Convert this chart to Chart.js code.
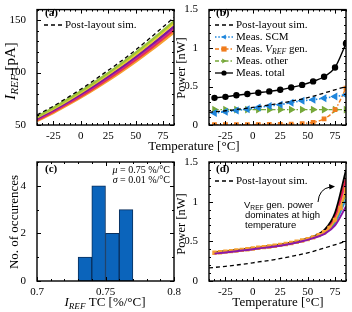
<!DOCTYPE html>
<html>
<head>
<meta charset="utf-8">
<script src="https://cdn.jsdelivr.net/npm/chart.js@4"></script>
<style>
  body { margin: 0; background: #fff; width: 352px; height: 312px; position: relative; overflow: hidden; }
  canvas { position: absolute; left: 0; top: 0; }
</style>
</head>
<body>
<canvas id="ca" width="352" height="312"></canvas>
<canvas id="cb" width="352" height="312"></canvas>
<canvas id="cc" width="352" height="312"></canvas>
<canvas id="cd" width="352" height="312"></canvas>
<script>
// ---- (a) reference current vs temperature, one line per chip
const tA = [-40, -25, -10, 5, 20, 35, 50, 65, 85];
const iPost    = [59.5, 68, 77.5, 87.5, 98.5, 109.5, 121.5, 134.5, 152.5];
const iGreen   = [58, 66.4, 75.7, 85.5, 96, 107.1, 118.9, 131.4, 149];
const iYellow  = [57.1, 65.5, 74.6, 84.3, 94.7, 105.6, 117.2, 129.5, 146.9];
const iPurple  = [56, 64.2, 73.1, 82.6, 92.8, 103.5, 114.9, 127, 144];
const iMagenta = [55.4, 63.6, 72.4, 81.8, 91.9, 102.5, 113.8, 125.7, 142.6];
const iRed     = [54.6, 62.6, 71.3, 80.5, 90.5, 100.9, 112, 123.8, 140.4];
const iOrange  = [53.8, 61.6, 70.2, 79.3, 89.1, 99.4, 110.3, 121.9, 138.2];

// ---- (b) power breakdown
const tB = [-35, -25, -15, -5, 5, 15, 25, 35, 45, 55, 65, 75, 85];
const tPost = [-40, -25, -10, 5, 20, 35, 50, 65, 85];
const pPost  = [0.165, 0.185, 0.21, 0.24, 0.27, 0.31, 0.355, 0.415, 0.5];
const pScm   = [0.155, 0.172, 0.189, 0.206, 0.227, 0.248, 0.265, 0.29, 0.315, 0.328, 0.349, 0.37, 0.39];
const pVref  = [0.005, 0.005, 0.005, 0.005, 0.006, 0.007, 0.008, 0.01, 0.018, 0.035, 0.08, 0.2, 0.48];
const pOther = [0.2, 0.2, 0.2, 0.2, 0.2, 0.2, 0.2, 0.2, 0.2, 0.2, 0.2, 0.2, 0.2];
const pTotal = [0.353, 0.366, 0.387, 0.403, 0.42, 0.437, 0.458, 0.488, 0.521, 0.567, 0.627, 0.748, 1.06];

// ---- (c) histogram of TC
const binCenters = [0.735, 0.745, 0.755, 0.765];
const binCounts = [1, 4, 2, 3];

// ---- (d) total power per chip
const tD = [-35, -25, -15, -5, 5, 15, 25, 35, 45, 55, 65, 75, 85];
const dBlack   = [0.36, 0.375, 0.39, 0.405, 0.42, 0.44, 0.46, 0.485, 0.515, 0.56, 0.64, 0.86, 1.40];
const dRed     = [0.355, 0.37, 0.385, 0.40, 0.42, 0.435, 0.455, 0.48, 0.51, 0.555, 0.63, 0.82, 1.30];
const dMagenta = [0.35, 0.365, 0.38, 0.395, 0.415, 0.43, 0.45, 0.475, 0.505, 0.55, 0.62, 0.80, 1.25];
const dYellow  = [0.36, 0.375, 0.39, 0.405, 0.425, 0.44, 0.46, 0.485, 0.515, 0.555, 0.625, 0.78, 1.17];
const dGreen   = [0.355, 0.37, 0.385, 0.40, 0.42, 0.435, 0.455, 0.48, 0.51, 0.55, 0.61, 0.76, 1.10];
const dBlue    = [0.35, 0.365, 0.38, 0.395, 0.415, 0.43, 0.45, 0.475, 0.505, 0.545, 0.60, 0.73, 1.03];
const dPurple  = [0.345, 0.36, 0.375, 0.39, 0.41, 0.425, 0.445, 0.47, 0.50, 0.54, 0.59, 0.70, 0.94];
const tD5 = [-35, -30, -25, -20, -15, -10, -5, 0, 5, 10, 15, 20, 25, 30, 35, 40, 45, 50, 55, 60, 65, 70, 75, 80, 85];
const dOrange  = [0.355, 0.362, 0.37, 0.377, 0.385, 0.392, 0.40, 0.41, 0.42, 0.427, 0.435, 0.445, 0.455, 0.467, 0.48,
                  0.494, 0.51, 0.528, 0.55, 0.578, 0.615, 0.67, 0.77, 0.92, 1.15];

// tick labels
const tempTicks = [-25, 0, 25, 50, 75];
const iTicks = [50, 100, 150];
const powTicks = [0, 0.5, 1, 1.5];
const tcTicks = [0.7, 0.75, 0.8];
const cntTicks = [0, 2, 4];

const serif = '"Liberation Serif", "Times New Roman", serif';
const sans = '"Liberation Sans", Arial, sans-serif';
Chart.defaults.font.family = serif;
Chart.defaults.font.size = 11;
Chart.defaults.color = '#000';
Chart.defaults.animation = false;

const pts = (xs, ys) => xs.map((x, i) => ({ x: x, y: ys[i] }));

function axis(min, max, ticks, fit, size) {
  return {
    type: 'linear', min: min, max: max, offset: false,
    grid: { display: false },
    border: { display: false },
    ticks: { padding: fit === 'w' ? 3 : -3, maxRotation: 0, autoSkip: false, callback: v => String(+v.toFixed(2)) },
    afterBuildTicks: s => { s.ticks = ticks.map(v => ({ value: v })); },
    afterFit: s => { if (fit === 'w') s.width = size; else s.height = size; }
  };
}

// rich text: parts = [{t, i, b, sub, f}]
function rich(ctx, parts, x, y, size, align, rot, subScale) {
  const ss = subScale || 0.7;
  ctx.save();
  ctx.translate(x, y);
  if (rot) ctx.rotate(rot);
  ctx.textBaseline = 'middle';
  ctx.textAlign = 'left';
  ctx.fillStyle = '#000';
  const font = p => (p.b ? 'bold ' : '') + (p.i ? 'italic ' : '') + (p.sub ? size * ss : size) + 'px ' + (p.f || serif);
  let w = 0;
  parts.forEach(p => { ctx.font = font(p); w += ctx.measureText(p.t).width; });
  let cx = align === 'center' ? -w / 2 : align === 'right' ? -w : 0;
  parts.forEach(p => {
    ctx.font = font(p);
    ctx.fillText(p.t, cx, p.sub ? size * 0.3 : 0);
    cx += ctx.measureText(p.t).width;
  });
  ctx.restore();
}

function marker(ctx, style, x, y, r, color) {
  if (!style) return;
  ctx.fillStyle = color;
  ctx.beginPath();
  if (style === 'circle') ctx.arc(x, y, r, 0, Math.PI * 2);
  else if (style === 'rect') ctx.rect(x - r, y - r, 2 * r, 2 * r);
  else if (style === 'left') { ctx.moveTo(x - r, y); ctx.lineTo(x + r * 0.7, y - r); ctx.lineTo(x + r * 0.7, y + r); }
  else if (style === 'right') { ctx.moveTo(x + r, y); ctx.lineTo(x - r * 0.7, y - r); ctx.lineTo(x - r * 0.7, y + r); }
  ctx.closePath();
  ctx.fill();
}

function legendItem(ctx, x, y, color, dash, style, parts) {
  ctx.save();
  ctx.strokeStyle = color;
  ctx.lineWidth = 1.3;
  ctx.setLineDash(dash);
  ctx.beginPath();
  ctx.moveTo(x, y);
  ctx.lineTo(x + 18, y);
  ctx.stroke();
  ctx.setLineDash([]);
  marker(ctx, style, x + 9, y, 2.6, color);
  ctx.restore();
  rich(ctx, parts, x + 21, y, 11, 'left');
}

// box with inward major and minor ticks
const frame = {
  id: 'frame',
  afterDatasetsDraw(chart, args, o) {
    const { ctx, chartArea: a, scales } = chart;
    const x = scales.x, y = scales.y;
    ctx.save();
    ctx.strokeStyle = '#000';
    ctx.lineWidth = 1;
    ctx.beginPath();
    const mx = v => Math.round(x.getPixelForValue(v)) + 0.5;
    const my = v => Math.round(y.getPixelForValue(v)) + 0.5;
    for (let k = 0; x.min + k * o.mx <= x.max + 1e-9; k++) {
      const v = x.min + k * o.mx;
      const major = x.ticks.some(t => Math.abs(t.value - v) < 1e-6);
      const len = major ? 4 : 2;
      ctx.moveTo(mx(v), a.bottom); ctx.lineTo(mx(v), a.bottom - len);
      ctx.moveTo(mx(v), a.top); ctx.lineTo(mx(v), a.top + len);
    }
    for (let k = 0; y.min + k * o.my <= y.max + 1e-9; k++) {
      const v = y.min + k * o.my;
      const major = y.ticks.some(t => Math.abs(t.value - v) < 1e-6);
      const len = major ? 4 : 2;
      ctx.moveTo(a.left, my(v)); ctx.lineTo(a.left + len, my(v));
      ctx.moveTo(a.right, my(v)); ctx.lineTo(a.right - len, my(v));
    }
    ctx.stroke();
    ctx.lineWidth = 1.4;
    ctx.strokeRect(a.left, a.top, a.right - a.left, a.bottom - a.top);
    ctx.restore();
  }
};

const baseOpts = (pad, scalesObj, minor) => ({
  responsive: false,
  maintainAspectRatio: false,
  devicePixelRatio: 1,
  layout: { padding: pad },
  scales: scalesObj,
  plugins: { legend: { display: false }, tooltip: { enabled: false }, frame: minor }
});

const line = (label, xs, ys, color, extra) => Object.assign({
  label: label, data: pts(xs, ys), borderColor: color, backgroundColor: color,
  borderWidth: 1.4, pointRadius: 0, cubicInterpolationMode: 'monotone', fill: false
}, extra || {});

// ---------- (a)
new Chart(document.getElementById('ca'), {
  type: 'line',
  data: {
    datasets: [
      line('Post-layout sim.', tA, iPost, '#000', { borderDash: [4, 3], borderWidth: 1.3 }),
      line('chip 1', tA, iGreen, '#9cc43a', { borderWidth: 2.2 }),
      line('chip 2', tA, iYellow, '#e6d22a', { borderWidth: 2.2 }),
      line('chip 3', tA, iPurple, '#7c1a9e', { borderWidth: 2.2 }),
      line('chip 4', tA, iMagenta, '#c8289a', { borderWidth: 2.2 }),
      line('chip 5', tA, iRed, '#e8344a', { borderWidth: 2.2 }),
      line('chip 6', tA, iOrange, '#f5a030', { borderWidth: 2.4 })
    ]
  },
  options: baseOpts({ left: 7, right: 178, top: 6, bottom: 167 }, {
    x: axis(-40, 85, tempTicks, 'h', 20),
    y: axis(50, 160, iTicks, 'w', 30)
  }, { mx: 5, my: 10 }),
  plugins: [frame, {
    id: 'decoA',
    afterDraw(chart) {
      const ctx = chart.ctx;
      rich(ctx, [{ t: '(a)', b: 1 }], 45, 13, 11, 'left');
      legendItem(ctx, 44, 25, '#000', [4, 3], null, [{ t: 'Post-layout sim.' }]);
      rich(ctx, [{ t: 'I', i: 1 }, { t: 'REF', i: 1, sub: 1 }, { t: ' [pA]' }], 11, 71, 15, 'center', -Math.PI / 2, 0.75);
    }
  }]
});

// ---------- (b)
new Chart(document.getElementById('cb'), {
  type: 'line',
  data: {
    datasets: [
      line('Meas. total', tB, pTotal, '#000', { pointRadius: 2.5, pointStyle: 'circle' }),
      line('Post-layout sim.', tPost, pPost, '#000', { borderDash: [4, 3], borderWidth: 1.3 }),
      line('Meas. SCM', tB, pScm, '#1f86dc', { borderDash: [1.5, 1.8], borderWidth: 1.6, pointRadius: 3, pointStyle: 'triangle', rotation: -90 }),
      line('Meas. VREF gen.', tB, pVref, '#f07c1c', { borderDash: [4, 2, 1.5, 2], pointRadius: 2.4, pointStyle: 'rect' }),
      line('Meas. other', tB, pOther, '#77a83a', { borderDash: [4, 2, 1.5, 2], pointRadius: 3, pointStyle: 'triangle', rotation: 90 })
    ]
  },
  options: baseOpts({ left: 185, right: 6, top: 6, bottom: 167 }, {
    x: axis(-40, 85, tempTicks, 'h', 20),
    y: axis(0, 1.5, powTicks, 'w', 24)
  }, { mx: 5, my: 0.1 }),
  plugins: [frame, {
    id: 'decoB',
    afterDraw(chart) {
      const ctx = chart.ctx;
      rich(ctx, [{ t: '(b)', b: 1 }], 216, 13, 11, 'left');
      legendItem(ctx, 215, 25, '#000', [4, 3], null, [{ t: 'Post-layout sim.' }]);
      legendItem(ctx, 215, 37, '#1f86dc', [1.5, 1.8], 'left', [{ t: 'Meas. SCM' }]);
      legendItem(ctx, 215, 49, '#f07c1c', [4, 2, 1.5, 2], 'rect', [{ t: 'Meas. ' }, { t: 'V', i: 1 }, { t: 'REF', i: 1, sub: 1 }, { t: ' gen.' }]);
      legendItem(ctx, 215, 61, '#77a83a', [4, 2, 1.5, 2], 'right', [{ t: 'Meas. other' }]);
      legendItem(ctx, 215, 73, '#000', [], 'circle', [{ t: 'Meas. total' }]);
      rich(ctx, [{ t: 'Power [nW]' }], 182, 68, 12.5, 'center', -Math.PI / 2);
      rich(ctx, [{ t: 'Temperature [°C]' }], 194, 147, 13, 'center');
    }
  }]
});

// ---------- (c)
new Chart(document.getElementById('cc'), {
  type: 'bar',
  data: {
    datasets: [{
      label: 'Chips',
      data: pts(binCenters, binCounts),
      backgroundColor: '#0b64bb',
      borderColor: '#0a2f5c',
      borderWidth: 1,
      borderSkipped: false,
      barPercentage: 1,
      categoryPercentage: 1
    }]
  },
  options: baseOpts({ left: 7, right: 178, top: 162, bottom: 11 }, {
    x: axis(0.7, 0.8, tcTicks, 'h', 20),
    y: axis(0, 5, cntTicks, 'w', 30)
  }, { mx: 0.01, my: 1 }),
  plugins: [frame, {
    id: 'decoC',
    afterDraw(chart) {
      const ctx = chart.ctx;
      rich(ctx, [{ t: '(c)', b: 1 }], 45, 169, 11, 'left');
      rich(ctx, [{ t: 'μ', i: 1 }, { t: ' = 0.75 %/°C' }], 170, 170, 10, 'right');
      rich(ctx, [{ t: 'σ', i: 1 }, { t: ' = 0.01 %/°C' }], 170, 180, 10, 'right');
      rich(ctx, [{ t: 'No. of occurences' }], 15, 222, 13, 'center', -Math.PI / 2);
      rich(ctx, [{ t: 'I', i: 1 }, { t: 'REF', i: 1, sub: 1 }, { t: ' TC [%/°C]' }], 105, 303, 13, 'center');
    }
  }]
});

// ---------- (d)
new Chart(document.getElementById('cd'), {
  type: 'line',
  data: {
    datasets: [
      line('Post-layout sim.', tPost, pPost, '#000', { borderDash: [4, 3], borderWidth: 1.3 }),
      line('chip 7', tD, dPurple, '#8a18a8', { borderWidth: 2 }),
      line('chip 8', tD5, dOrange, '#f5a030', { borderWidth: 1.6, pointRadius: 2, pointStyle: 'rect' }),
      line('chip 1', tD, dBlack, '#000', { borderWidth: 1.8 }),
      line('chip 2', tD, dRed, '#ec2040', { borderWidth: 1.8 }),
      line('chip 3', tD, dMagenta, '#e0309a', { borderWidth: 1.8 }),
      line('chip 4', tD, dYellow, '#f2d22a', { borderWidth: 1.8 }),
      line('chip 5', tD, dGreen, '#6cb440', { borderWidth: 1.8 }),
      line('chip 6', tD, dBlue, '#2a92d6', { borderWidth: 1.8 })
    ]
  },
  options: baseOpts({ left: 185, right: 6, top: 162, bottom: 11 }, {
    x: axis(-40, 85, tempTicks, 'h', 20),
    y: axis(0, 1.5, powTicks, 'w', 24)
  }, { mx: 5, my: 0.1 }),
  plugins: [frame, {
    id: 'decoD',
    afterDraw(chart) {
      const ctx = chart.ctx;
      rich(ctx, [{ t: '(d)', b: 1 }], 216, 169, 11, 'left');
      legendItem(ctx, 215, 181, '#000', [4, 3], null, [{ t: 'Post-layout sim.' }]);
      rich(ctx, [{ t: 'V', f: sans }, { t: 'REF', f: sans, sub: 1 }, { t: ' gen. power', f: sans }], 244, 205, 9.5, 'left');
      rich(ctx, [{ t: 'dominates at high', f: sans }], 245, 215, 9.5, 'left');
      rich(ctx, [{ t: 'temperature', f: sans }], 245, 225, 9.5, 'left');
      ctx.save();
      ctx.strokeStyle = '#000';
      ctx.fillStyle = '#000';
      ctx.lineWidth = 1;
      ctx.beginPath();
      ctx.moveTo(318, 202);
      ctx.quadraticCurveTo(319, 189, 330, 187);
      ctx.stroke();
      ctx.beginPath();
      ctx.moveTo(335, 186.5);
      ctx.lineTo(329, 184);
      ctx.lineTo(329.5, 189.5);
      ctx.closePath();
      ctx.fill();
      ctx.restore();
      rich(ctx, [{ t: 'Power [nW]' }], 182, 224, 12.5, 'center', -Math.PI / 2);
      rich(ctx, [{ t: 'Temperature [°C]' }], 278, 303, 13, 'center');
    }
  }]
});
</script>
</body>
</html>
